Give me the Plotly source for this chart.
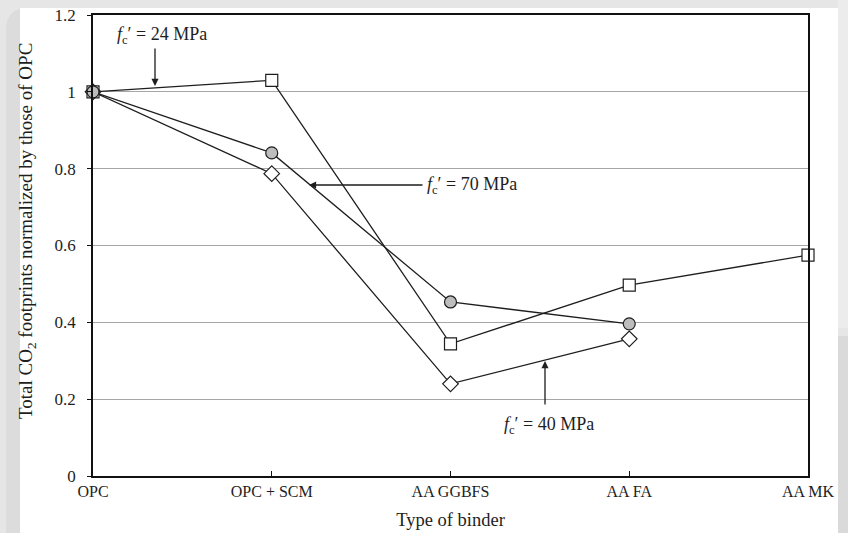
import plotly.graph_objects as go

# Binder types along the horizontal axis
binders = ["OPC", "OPC + SCM", "AA GGBFS", "AA FA", "AA MK"]

# Total CO2 footprints normalised by OPC, per concrete strength
co2_24mpa = [1.0, 1.03, 0.344, 0.497, 0.575]
co2_70mpa = [1.0, 0.841, 0.453, 0.396]
co2_40mpa = [1.0, 0.787, 0.240, 0.357]

y_ticks = [0, 0.2, 0.4, 0.6, 0.8, 1.0, 1.2]
y_tick_text = ["0", "0.2", "0.4", "0.6", "0.8", "1", "1.2"]

SERIF = "Liberation Serif"
INK = "#1e1e1e"

W, H = 848, 533
ML, MR, MT, MB = 93, 40, 15, 57

x_idx = list(range(len(binders)))

fig = go.Figure()

line = dict(color=INK, width=1.3)

fig.add_trace(go.Scatter(
    x=x_idx[:len(co2_40mpa)], y=co2_40mpa, mode="lines+markers",
    line=line,
    marker=dict(symbol="diamond", size=12, color="white",
                line=dict(color=INK, width=1.2)),
    showlegend=False, cliponaxis=False))

fig.add_trace(go.Scatter(
    x=x_idx[:len(co2_24mpa)], y=co2_24mpa, mode="lines+markers",
    line=line,
    marker=dict(symbol="square", size=12, color="white",
                line=dict(color=INK, width=1.2)),
    showlegend=False, cliponaxis=False))

fig.add_trace(go.Scatter(
    x=x_idx[:len(co2_70mpa)], y=co2_70mpa, mode="lines+markers",
    line=line,
    marker=dict(symbol="circle", size=12, color="#bdbdbd",
                line=dict(color=INK, width=1.2)),
    showlegend=False, cliponaxis=False))


def px_to_x(px):
    return (px - ML) / (W - ML - MR) * 4


def px_to_y(py):
    return (H - MB - py) / (H - MB - MT) * 1.2


label_font = dict(family=SERIF, size=18, color=INK)


def strength(mpa):
    return f"<i>f</i><sub>c</sub>′ = {mpa} MPa"


# Labels naming each strength curve, with pointer arrows
labels = [
    (strength(24), 162, 35, (155, 47), (155, 86)),
    (strength(70), 472, 185, (424, 185), (309, 185)),
    (strength(40), 549, 425, (545, 406), (545, 361)),
]
for text, tx, ty, tail, tip in labels:
    fig.add_annotation(x=px_to_x(tx), y=px_to_y(ty), text=text,
                       showarrow=False, font=label_font,
                       xref="x", yref="y")
    fig.add_annotation(x=px_to_x(tip[0]), y=px_to_y(tip[1]),
                       ax=px_to_x(tail[0]), ay=px_to_y(tail[1]),
                       axref="x", ayref="y", xref="x", yref="y",
                       text="", showarrow=True, arrowhead=2,
                       arrowsize=1.1, arrowwidth=1.3, arrowcolor=INK)


# Page backdrop: gray frame around a white sheet
def pxx(px):
    return (px - ML) / (W - ML - MR)


def pxy(py):
    return (H - MB - py) / (H - MB - MT)


# Vertical axis title, set a little above the plot's mid-height
fig.add_annotation(
    x=pxx(27), y=pxy(231), xref="paper", yref="paper",
    xanchor="center", yanchor="middle",
    text="Total CO<sub>2</sub> footprints normalized by those of OPC",
    textangle=-90, showarrow=False,
    font=dict(family=SERIF, size=19, color=INK))

shapes = [
    dict(type="rect", xref="paper", yref="paper", layer="below",
         x0=pxx(6), x1=pxx(22), y0=pxy(30), y1=pxy(H + 2),
         fillcolor="#dcdcdc", line=dict(width=0)),
    dict(type="path", xref="paper", yref="paper", layer="below",
         path=(f"M {pxx(6)},{pxy(30)} Q {pxx(6)},{pxy(8)} {pxx(28)},{pxy(8)} "
               f"L {pxx(28)},{pxy(30)} Z"),
         fillcolor="#dcdcdc", line=dict(width=0)),
    dict(type="rect", xref="paper", yref="paper", layer="below",
         x0=pxx(20), x1=pxx(838), y0=pxy(8), y1=pxy(H + 2),
         fillcolor="white", line=dict(width=0)),
    dict(type="rect", xref="paper", yref="paper", layer="below",
         x0=pxx(838), x1=pxx(W + 2), y0=pxy(0), y1=pxy(328),
         fillcolor="#ececec", line=dict(width=0)),
    dict(type="rect", xref="paper", yref="paper", layer="below",
         x0=pxx(838), x1=pxx(W + 2), y0=pxy(336), y1=pxy(H + 2),
         fillcolor="#dadada", line=dict(width=0)),
]

fig.update_layout(
    width=W, height=H,
    margin=dict(l=ML, r=MR, t=MT, b=MB, pad=0, autoexpand=False),
    paper_bgcolor="#e6e6e6",
    plot_bgcolor="white",
    shapes=shapes,
    font=dict(family=SERIF, size=16, color=INK),
)

fig.update_xaxes(
    range=[0, 4], tickvals=x_idx, ticktext=binders,
    showgrid=False, zeroline=False, automargin=False,
    showline=True, linecolor="#111", linewidth=1.6, mirror=True,
    ticks="inside", ticklen=5, tickcolor="#111", tickwidth=1.2,
    tickfont=dict(family=SERIF, size=16, color=INK),
    title=dict(text="Type of binder", font=dict(family=SERIF, size=18.5, color=INK),
               standoff=14),
)

fig.update_yaxes(
    range=[0, 1.2], tickvals=y_ticks, ticktext=y_tick_text,
    showgrid=True, gridcolor="#a6a6a6", gridwidth=1.1, zeroline=False,
    automargin=False,
    showline=True, linecolor="#111", linewidth=1.6, mirror=True,
    ticks="outside", ticklen=4, tickcolor="#111", tickwidth=1,
    ticklabelstandoff=8,
    tickfont=dict(family=SERIF, size=17, color=INK),
)

fig.write_html("out.html")
